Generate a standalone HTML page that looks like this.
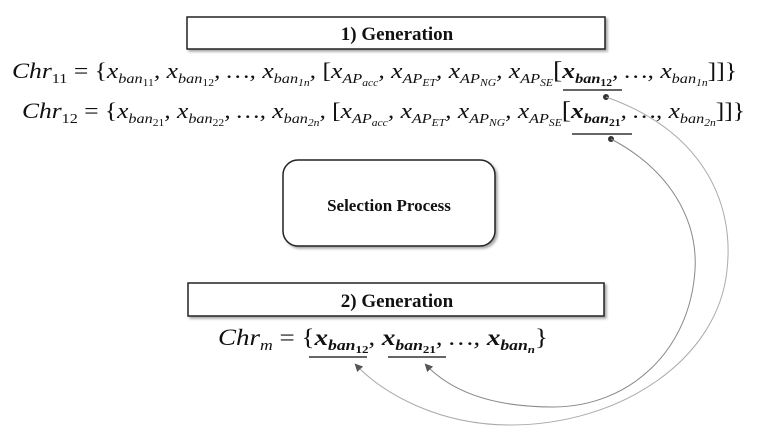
<!DOCTYPE html>
<html><head><meta charset="utf-8"><style>
html,body{margin:0;padding:0;background:#fff;}
svg{display:block;}
.m{font-family:"Liberation Serif",serif;font-style:italic;fill:#111;}
.b{font-family:"Liberation Serif",serif;font-weight:bold;fill:#111;}
.u{font-style:normal;}
</style></head><body>
<svg width="760" height="441" viewBox="0 0 760 441" xmlns="http://www.w3.org/2000/svg">
<defs>
<filter id="sh" x="-5%" y="-20%" width="110%" height="150%"><feDropShadow dx="2" dy="2" stdDeviation="1.2" flood-color="#000" flood-opacity="0.35"/></filter>
<marker id="ar" markerWidth="8" markerHeight="8" refX="6" refY="4" orient="auto" markerUnits="userSpaceOnUse"><path d="M0,0 L8,4 L0,8 z" fill="#555"/></marker>
</defs>
<rect x="187" y="17" width="418" height="32" fill="#fff" stroke="#222" stroke-width="1.5" filter="url(#sh)"/>
<text x="397" y="40" class="b" font-size="19" text-anchor="middle">1) Generation</text>

<text class="m" x="12" y="78" font-size="22" textLength="725" lengthAdjust="spacingAndGlyphs">Chr<tspan font-size="14" dy="5" class="u">11</tspan><tspan dy="-5" class="u"> = {</tspan><tspan>x</tspan><tspan font-size="14" dy="5">ban</tspan><tspan font-size="10" dy="3" class="u">11</tspan><tspan dy="-8">, x</tspan><tspan font-size="14" dy="5">ban</tspan><tspan font-size="10" dy="3" class="u">12</tspan><tspan dy="-8">, …, x</tspan><tspan font-size="14" dy="5">ban</tspan><tspan font-size="10" dy="3">1n</tspan><tspan dy="-8">, </tspan><tspan class="u">[</tspan><tspan>x</tspan><tspan font-size="14" dy="5">AP</tspan><tspan font-size="10" dy="3">acc</tspan><tspan dy="-8">, x</tspan><tspan font-size="14" dy="5">AP</tspan><tspan font-size="10" dy="3">ET</tspan><tspan dy="-8">, x</tspan><tspan font-size="14" dy="5">AP</tspan><tspan font-size="10" dy="3">NG</tspan><tspan dy="-8">, x</tspan><tspan font-size="14" dy="5">AP</tspan><tspan font-size="10" dy="3">SE</tspan><tspan dy="-8" class="u" font-size="24">[</tspan><tspan font-weight="bold">x</tspan><tspan font-size="14" dy="5" font-weight="bold">ban</tspan><tspan font-size="10" dy="3" font-weight="bold" class="u">12</tspan><tspan dy="-8">, …, x</tspan><tspan font-size="14" dy="5">ban</tspan><tspan font-size="10" dy="3">1n</tspan><tspan dy="-8" class="u">]]}</tspan></text>

<text class="m" x="22" y="118" font-size="22" textLength="723" lengthAdjust="spacingAndGlyphs">Chr<tspan font-size="14" dy="5" class="u">12</tspan><tspan dy="-5" class="u"> = {</tspan><tspan>x</tspan><tspan font-size="14" dy="5">ban</tspan><tspan font-size="10" dy="3" class="u">21</tspan><tspan dy="-8">, x</tspan><tspan font-size="14" dy="5">ban</tspan><tspan font-size="10" dy="3" class="u">22</tspan><tspan dy="-8">, …, x</tspan><tspan font-size="14" dy="5">ban</tspan><tspan font-size="10" dy="3">2n</tspan><tspan dy="-8">, </tspan><tspan class="u">[</tspan><tspan>x</tspan><tspan font-size="14" dy="5">AP</tspan><tspan font-size="10" dy="3">acc</tspan><tspan dy="-8">, x</tspan><tspan font-size="14" dy="5">AP</tspan><tspan font-size="10" dy="3">ET</tspan><tspan dy="-8">, x</tspan><tspan font-size="14" dy="5">AP</tspan><tspan font-size="10" dy="3">NG</tspan><tspan dy="-8">, x</tspan><tspan font-size="14" dy="5">AP</tspan><tspan font-size="10" dy="3">SE</tspan><tspan dy="-8" class="u" font-size="24">[</tspan><tspan font-weight="bold">x</tspan><tspan font-size="14" dy="5" font-weight="bold">ban</tspan><tspan font-size="10" dy="3" font-weight="bold" class="u">21</tspan><tspan dy="-8">, …, x</tspan><tspan font-size="14" dy="5">ban</tspan><tspan font-size="10" dy="3">2n</tspan><tspan dy="-8" class="u">]]}</tspan></text>

<line x1="563" y1="90" x2="622" y2="90" stroke="#333" stroke-width="1.5"/>
<circle cx="606" cy="97" r="3" fill="#333"/>
<line x1="572" y1="134" x2="632" y2="134" stroke="#333" stroke-width="1.5"/>
<circle cx="611" cy="139" r="3" fill="#333"/>

<rect x="283" y="160" width="212" height="86" rx="15" fill="#fff" stroke="#222" stroke-width="1.5" filter="url(#sh)"/>
<text x="389" y="211" class="b" font-size="17" text-anchor="middle">Selection Process</text>

<rect x="188" y="283" width="416" height="33" fill="#fff" stroke="#222" stroke-width="1.5" filter="url(#sh)"/>
<text x="397" y="307" class="b" font-size="19" text-anchor="middle">2) Generation</text>

<text class="m" x="218" y="345" font-size="23" textLength="330" lengthAdjust="spacingAndGlyphs">Chr<tspan font-size="15" dy="5">m</tspan><tspan dy="-5" class="u"> = {</tspan><tspan font-weight="bold">x</tspan><tspan font-size="15" dy="5" font-weight="bold">ban</tspan><tspan font-size="11" dy="3" font-weight="bold" class="u">12</tspan><tspan dy="-8">, </tspan><tspan font-weight="bold">x</tspan><tspan font-size="15" dy="5" font-weight="bold">ban</tspan><tspan font-size="11" dy="3" font-weight="bold" class="u">21</tspan><tspan dy="-8">, …, </tspan><tspan font-weight="bold">x</tspan><tspan font-size="15" dy="5" font-weight="bold">ban</tspan><tspan font-size="11" dy="3" font-weight="bold">n</tspan><tspan dy="-8" class="u">}</tspan></text>
<line x1="309" y1="357" x2="367" y2="357" stroke="#333" stroke-width="1.5"/>
<line x1="388" y1="357" x2="446" y2="357" stroke="#333" stroke-width="1.5"/>

<path d="M606,97 C700,130 735,200 727,270 C718,360 620,425 510,425 C440,425 385,395 356,365" fill="none" stroke="#aaa" stroke-width="1" marker-end="url(#ar)"/>
<path d="M611,139 C670,170 698,220 695,270 C690,350 630,407 553,407 C490,407 450,390 426,365" fill="none" stroke="#888" stroke-width="1" marker-end="url(#ar)"/>
</svg>
</body></html>
